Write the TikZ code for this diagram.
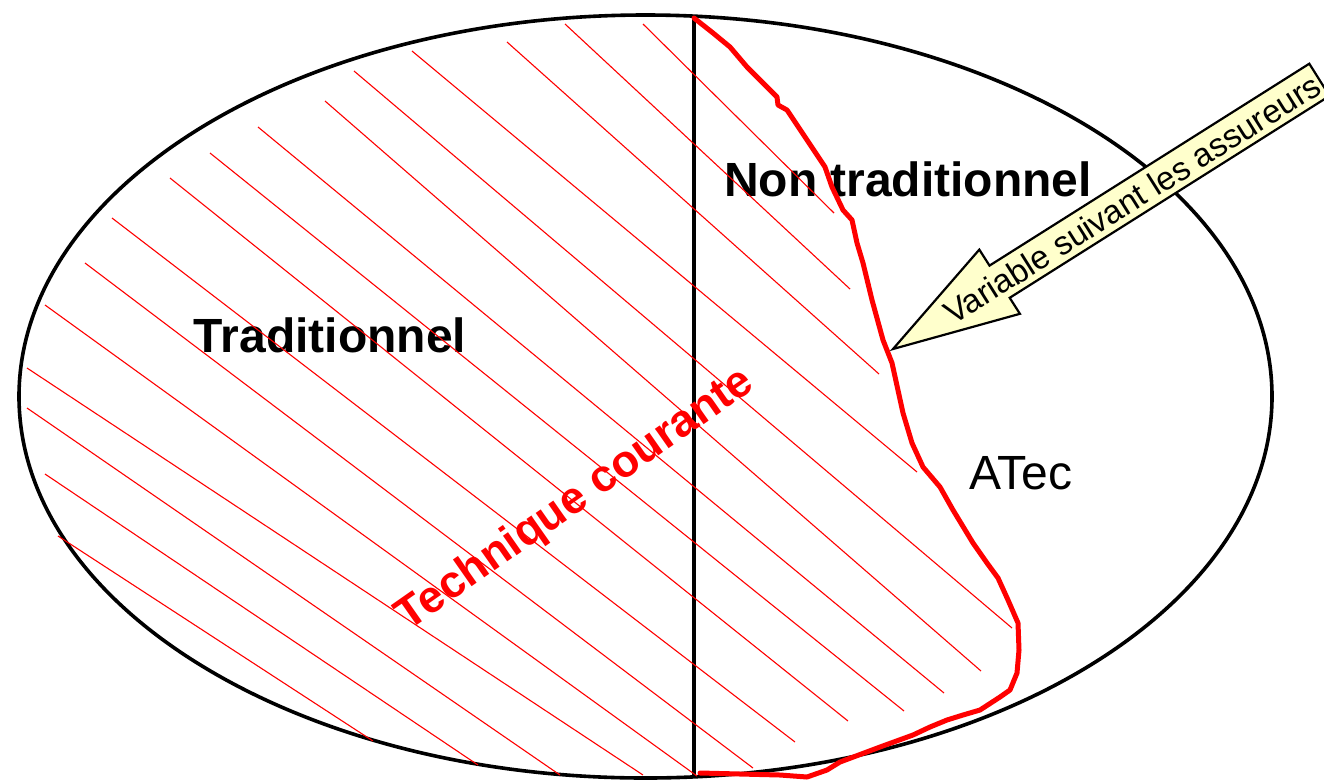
\documentclass[tikz,border=0pt]{standalone}
\usepackage{fontspec}
\setmainfont{Liberation Sans}
\definecolor{paleyellow}{HTML}{FFFFCC}
\begin{document}
\begin{tikzpicture}[x=1pt,y=-1pt,
  hatchline/.style={red, line width=1.1pt},
  outline/.style={black, line width=3.6pt},
  limitcurve/.style={red, line width=5pt, line join=round, line cap=round},
  bigbold/.style={font=\fontsize{48}{52}\selectfont\bfseries, inner sep=0pt},
  plainlabel/.style={font=\fontsize{48}{52}\selectfont, inner sep=0pt},
  redlabel/.style={font=\fontsize{45}{48}\selectfont\bfseries, text=red, inner sep=0pt},
  arrowshape/.style={draw=black, fill=paleyellow, line width=2.2pt, line join=miter},
  arrowlabel/.style={font=\fontsize{33}{36}\selectfont, inner sep=0pt}]
\useasboundingbox (0,0) rectangle (1324,780);
\fill[white] (0,0) rectangle (1324,780);

% ellipse and dividing line
\draw[outline] (645.5,396.5) ellipse [x radius=626.5pt, y radius=381.5pt];
\coordinate (top) at (694,15);
\coordinate (bot) at (694,777.5);
\draw[outline] (top) -- (bot);

% labels
\node[bigbold, anchor=base] (trad) at (330,352) {Traditionnel};
\node[bigbold, anchor=base] (nontrad) at (908,196) {Non traditionnel};
\node[plainlabel, anchor=base] (atec) at (1021,489) {ATec};

% hatching
\foreach \sx/\sy/\ex/\ey in {
  643/24/834/213, 565/24/850/289, 507/42/879/374, 412/51/917/472,
  354/71/1012/628, 325/101/981/671, 258/127/944/693, 210/153/904/711,
  170/178/848/721, 112/218/795/742, 85/263/753/768, 45/305/697/776,
  27/368/643/775, 27/408/560/775, 45/474/478/765, 58/536/373/741}
  \draw[hatchline] (\sx,\sy) -- (\ex,\ey);

\node[redlabel, rotate=35] (tech) at (576,500) {Technique courante};

% red limit curve
\draw[limitcurve] (694,18) -- (713,33) -- (730,47) -- (747,67) -- (767,87)
  -- (777,97) -- (778,105) -- (787,110) -- (807,140) -- (825,167) -- (832,187)
  -- (843,210) -- (852,220) -- (857,243) -- (863,263) -- (872,300) -- (883,340)
  -- (892,363) -- (903,413) -- (912,443) -- (923,467) -- (940,487) -- (953,510)
  -- (973,543) -- (987,563) -- (998,578) -- (1008,600) -- (1018,623)
  -- (1019,650) -- (1017,673) -- (1010,690) -- (1000,697) -- (980,710)
  -- (963,715) -- (947,720) -- (930,727) -- (913,735) -- (880,747) -- (840,762)
  -- (827,770) -- (807,777) -- (780,775) -- (700,773);

% callout arrow
\coordinate (tip) at (893,349);
\draw[arrowshape] (tip) -- (979.3,249.6) -- (989.5,265.6) -- (1309.3,63.7)
  -- (1329.5,95.9) -- (1009.7,297.8) -- (1019.9,313.8) -- cycle;
\node[arrowlabel, rotate=32.26] (var) at (1132,199) {Variable suivant les assureurs};
\end{tikzpicture}
\end{document}
